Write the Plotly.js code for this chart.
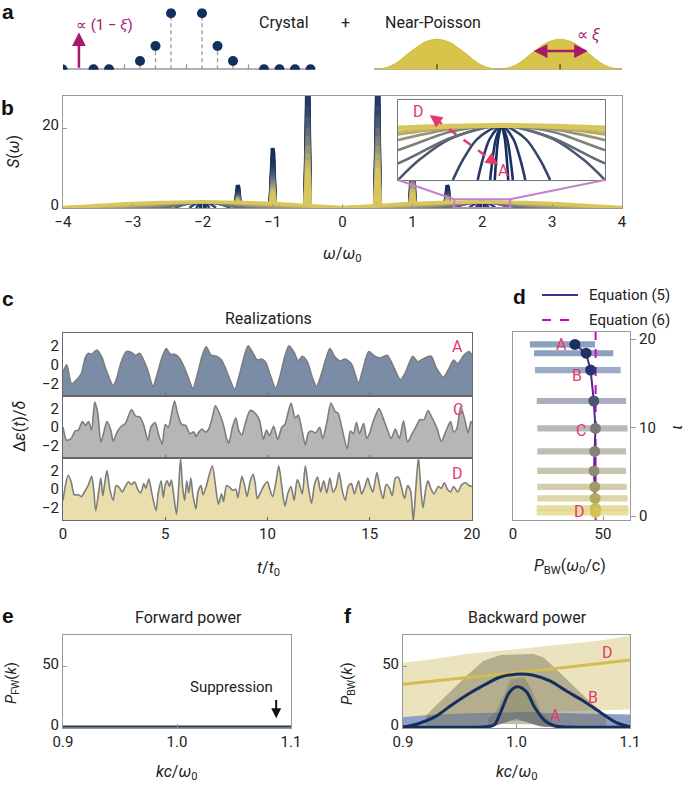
<!DOCTYPE html>
<html><head><meta charset="utf-8">
<script src="https://cdn.plot.ly/plotly-3.0.1.min.js"></script>
<style>html,body{margin:0;padding:0;background:#fff}#chart{width:685px;height:785px}</style>
</head><body><div id="chart"></div>
<script>
// ================= DATA =================
// Panel a : crystal spectrum (stems) and near-Poisson bells
const crystalOmega  = [-4, -3, -2.5, -1.5, -1, -0.5, 0.5, 1, 1.5, 2.5, 3, 3.5, 4];
const crystalHeight = [0, 0, 0, 8.3, 23.3, 56, 56, 23.3, 8.3, 0, 0, 0, 0];
const crystalTicks  = [-2, 0, 2];
const poissonCenters = [8.08, 12.05];
const bellOffset = [-1.97, -1.6, -1.3, -1.0, -0.7, -0.4, 0, 0.4, 0.7, 1.0, 1.3, 1.6, 1.97];
const bellHeight = [0, 2, 6.5, 14, 21, 27, 30, 27, 21, 14, 6.5, 2, 0];

// Panel b : S(omega)
const peakOmega = [-1.5, -1, -0.5, 0.5, 1, 1.5];
const peakS     = [5.7, 15, 38, 38, 15, 5.7];
const levelSpikeFrac = [1.0, 0.86, 0.75, 0.67, 0.6, 0.53, 0.47, 0.41, 0.36, 0.31, 0.26];
const humpCenters = [-2, 2];
const tentFeet = [0.026, 0.044, 0.092, 0.188, 0.40];          // narrow (crystal-like) humps
const tentShapeD = [-1, -0.8, -0.5, 0, 0.5, 0.8, 1];
const tentShapeS = [0, 0.54, 1.125, 1.5, 1.125, 0.54, 0];
const broadOffset = [0, 0.2, 0.4, 0.6, 0.8, 1.0, 1.2, 1.5, 1.8, 2.0];
const broadS = [
  [1.5, 1.15, 0.46, 0.12, 0.02, 0, 0, 0, 0, 0],
  [1.5, 1.32, 0.825, 0.45, 0.2, 0.07, 0.02, 0, 0, 0],
  [1.5, 1.4, 1.1, 0.75, 0.48, 0.27, 0.14, 0.04, 0.01, 0],
  [1.5, 1.44, 1.25, 1.0, 0.78, 0.56, 0.38, 0.18, 0.07, 0.04],
  [1.5, 1.46, 1.32, 1.12, 0.92, 0.72, 0.54, 0.32, 0.17, 0.1],
  [1.5, 1.48, 1.43, 1.35, 1.25, 1.12, 0.95, 0.62, 0.3, 0.15]
];

// Panel c : realizations
const tA = [0,0.18,0.42,0.7,0.9,1.1,1.25,1.4,1.65,1.9,2.1,2.45,2.6,2.85,3.1,3.35,3.55,3.75,4.0,4.15,4.4,4.55,4.85,5.05,5.25,5.45,5.65,5.85,6.1,6.35,6.55,6.8,7.0,7.25,7.5,7.75,7.95,8.15,8.4,8.6,8.85,9.05,9.3,9.5,9.7,9.9,10.15,10.4,10.6,10.85,11.05,11.3,11.5,11.7,11.95,12.2,12.4,12.65,13.05,13.3,13.55,13.8,14.1,14.45,14.65,14.95,15.25,15.5,15.85,16.1,16.5,16.75,17.1,17.35,17.6,18.0,18.25,18.6,18.85,19.1,19.3,19.6,19.85,20];
const vA = [-0.8,0.0,-2.0,-1.5,-0.9,0.8,1.2,1.1,1.55,0.8,-0.5,-2.2,-1.6,0.3,1.4,1.3,1.0,1.2,0.2,-0.6,-2.3,-1.4,0.8,1.7,1.1,1.1,0.8,0.1,-1.2,-2.5,-1.2,0.9,1.9,1.0,0.9,0.5,-0.4,-1.5,-2.6,-1.3,0.8,2.0,1.2,0.5,0.6,0.3,-1.2,-2.5,-1.3,0.9,2.0,1.3,0.4,0.9,0.3,-1.4,-2.3,-0.9,1.7,0.8,0.4,0.6,0.1,-1.9,-0.6,1.4,0.9,0.7,1.0,0.1,-1.6,-0.8,0.9,0.3,0.6,0.9,-0.3,-1.3,-0.5,0.5,0.1,1.0,1.4,1.0];
const tC = [0,0.18,0.4,0.6,0.75,0.95,1.1,1.25,1.4,1.55,1.7,1.85,2.0,2.15,2.35,2.45,2.65,2.85,3.05,3.35,3.55,3.75,3.95,4.15,4.3,4.5,4.7,4.85,5.0,5.15,5.45,5.6,5.8,6.0,6.2,6.4,6.5,6.65,6.8,6.95,7.1,7.3,7.45,7.65,7.85,8.0,8.1,8.3,8.45,8.6,8.75,8.9,9.15,9.4,9.6,9.8,9.95,10.1,10.3,10.5,10.7,10.85,11.15,11.35,11.5,11.7,11.85,12.0,12.15,12.35,12.55,12.7,12.9,13.1,13.3,13.45,13.65,13.9,14.05,14.2,14.35,14.5,14.7,14.85,15.0,15.15,15.45,15.65,15.85,16.05,16.25,16.45,16.65,16.85,17.05,17.25,17.45,17.65,17.85,18.05,18.3,18.5,18.75,18.95,19.1,19.25,19.45,19.65,19.8,19.95,20];
const vC = [0,-1.4,-1.2,-0.4,-0.3,0.6,0.2,0.6,-0.3,2.7,1.5,-1.6,-0.5,0.6,-0.4,-1.5,-0.5,0.1,0.4,1.9,1.2,1.1,0.2,-1.4,0.0,0.5,-1.0,-1.8,0.3,0.0,2.8,1.5,0.3,0.2,-0.7,-0.5,-1.0,-0.5,-0.2,-0.5,-0.3,1.0,2.3,1.5,0.2,-1.2,-1.7,0.1,1.0,-0.4,-0.8,0.3,1.8,1.5,0.8,-1.3,-0.3,-0.9,0.1,-1.3,0.0,0.3,2.6,1.0,1.3,-0.5,-1.9,-0.6,-0.4,-0.6,0.0,-1.2,0.5,2.6,1.7,1.5,-0.2,-2.3,-0.4,-0.7,0.5,-0.7,0.4,-1.2,-0.6,0.5,2.0,1.0,-0.2,-1.2,-0.2,-1.2,0.7,-1.6,-0.8,0.0,0.8,0.8,1.8,1.0,-0.2,-1.5,-0.3,0.6,-0.5,-0.2,2.2,0.8,-0.6,0.6,0.4];
const tD = [0,0.1,0.25,0.4,0.55,0.75,0.9,1.05,1.25,1.4,1.5,1.6,1.75,1.85,1.95,2.05,2.15,2.3,2.45,2.6,2.75,2.9,3.05,3.2,3.35,3.5,3.65,3.8,3.95,4.05,4.2,4.35,4.55,4.65,4.8,4.9,5.0,5.1,5.2,5.3,5.4,5.55,5.65,5.75,5.85,5.95,6.05,6.15,6.25,6.35,6.5,6.6,6.75,6.85,7.0,7.3,7.45,7.6,7.75,7.85,8.0,8.15,8.3,8.45,8.55,8.75,8.9,9.0,9.15,9.3,9.4,9.5,9.65,9.8,10.0,10.1,10.25,10.4,10.55,10.7,10.85,11.0,11.15,11.3,11.45,11.55,11.7,11.85,12.0,12.15,12.3,12.45,12.6,12.75,12.9,13.05,13.2,13.35,13.5,13.65,13.8,13.95,14.1,14.25,14.45,14.6,14.75,14.9,15.0,15.15,15.35,15.5,15.65,15.8,15.95,16.1,16.25,16.4,16.55,16.7,16.85,17.0,17.13,17.25,17.38,17.5,17.6,17.75,17.85,18.0,18.15,18.35,18.5,18.65,18.8,18.95,19.1,19.3,19.5,19.7,19.85,20];
const vD = [-1.2,0.2,1.5,0.8,-0.6,-0.6,-0.8,-0.3,0.5,1.4,0.0,-2.3,-0.2,1.2,-0.7,0.8,2.0,-0.1,-1.2,0.4,0.2,-0.3,0.3,0.8,0.5,0.8,0.0,-0.4,0.6,0.1,1.1,-0.5,-2.3,-0.5,0.9,-0.9,0.5,0.9,0.3,1.0,-0.4,-2.7,0.0,3.3,0.2,-1.2,0.9,-0.4,1.2,-0.6,-2.1,-0.3,0.4,-0.6,0.3,2.5,0.5,-1.6,-0.5,-1.3,0.4,0.2,-0.1,0.0,-0.9,1.4,0.2,-0.8,0.8,1.6,0.6,-1.0,-0.4,0.3,0.8,0.1,-0.8,0.6,2.5,0.3,-1.8,-0.4,0.3,-1.2,1.0,0.6,-0.5,2.5,0.2,-1.5,0.5,1.3,-0.3,0.9,-0.4,1.2,-0.3,0.2,1.8,-0.1,-1.2,0.3,0.6,-0.5,0.9,-0.5,0.2,1.2,0.5,-0.3,1.8,0.2,-1.0,0.5,0.2,-0.7,1.2,1.3,0.2,-1.0,0.4,-0.2,-3.4,0.0,3.4,0.0,-2.0,0.2,0.9,0.0,-0.5,0.3,0.1,0.7,0.0,-0.3,0.3,-0.3,0.5,0.7,0.4,0.3];

// Panel d : backward power vs iota
const iotaLevels = [19.4, 18.4, 16.5, 13.0, 9.9, 7.3, 5.1, 3.3, 2.0, 0.87, 0.4];
const pbwEq5  = [34.4, 40.6, 43.1, 44.9, 45.8, 45.4, 45.0, 45.4, 45.6, 45.8, 45.8];
const pbwLow  = [9.4, 11.7, 12.2, 13.2, 13.5, 13.5, 13.5, 13.5, 13.5, 13.2, 13.2];
const pbwHigh = [45.6, 55.7, 59.8, 62.8, 63.7, 62.8, 62.8, 63.2, 63.7, 64.1, 64.1];
const pbwEq6  = 45.9;

// Panel e : forward power
const kFw  = [0.9, 0.95, 1.0, 1.05, 1.1];
const pfwA = [1.3, 1.3, 1.3, 1.3, 1.3];
const pfwD = [0.3, 0.3, 0.3, 0.3, 0.3];

// Panel f : backward power
const kBandD = [0.9, 0.927, 0.956, 0.986, 1.015, 1.044, 1.074, 1.1];
const bandDLow  = [9.2, 9.5, 10.5, 11.5, 12.5, 13.5, 14.5, 15];
const bandDHigh = [53, 56, 60, 62.8, 65.5, 68.2, 71, 75];
const kBandBlue = [0.9, 0.915, 0.93, 0.96, 0.98, 0.99, 1.0, 1.01, 1.02, 1.04, 1.07, 1.1];
const bandBlueLow  = [0, 0, 0, 0, 1.5, 4.5, 7.5, 4.5, 1.5, 0, 0, 0];
const bandBlueHigh = [9, 10, 11, 12, 12.5, 13, 13, 13, 12.5, 12, 11.5, 11];
const kBandB = [0.92, 0.9414, 0.956, 0.971, 0.986, 1.015, 1.024, 1.038, 1.053, 1.067, 1.079];
const bandBHigh = [10, 28.8, 42.4, 54.6, 59.2, 60, 57.3, 45, 31.5, 19.3, 10];
const kBandA = [0.975, 0.981, 0.990, 0.995, 1.007, 1.013, 1.022, 1.028];
const bandAHigh = [8, 12, 28.8, 40, 41, 31.5, 12, 8];
const kB = [0.9, 0.912, 0.9285, 0.943, 0.958, 0.973, 0.9846, 0.9997, 1.0148, 1.03, 1.044, 1.059, 1.074, 1.088, 1.1];
const pB = [0.8, 3, 9.2, 18.7, 27.8, 35.6, 41, 43.7, 42.9, 38, 30, 22, 12.6, 4.4, 1];
const kA = [0.9, 0.97, 0.978, 0.981, 0.987, 0.993, 0.999, 1.003, 1.009, 1.016, 1.025, 1.034, 1.046, 1.1];
const pA = [0.8, 0.8, 1.6, 3, 15, 27.8, 33.2, 33.2, 29.2, 16.8, 5.9, 1.6, 0.8, 0.8];
const kDl = [0.9, 0.95, 1.0, 1.05, 1.1];
const pD  = [35.6, 40.3, 45, 50, 55.2];

// ================= STYLE / LAYOUT HELPERS =================
const W = 685, H = 785;
const FONT = 'Roboto, "Open Sans", sans-serif';
const px = x => x / W, py = y => 1 - y / H;
const domX = (a, b) => [a / W, b / W];
const domY = (bottom, top) => [1 - bottom / H, 1 - top / H];
const YEL = '#d3bd52', CRIMSON = '#e23a6e', MAG = '#a8196b';
const levelColors = ['#132d5c','#1a3360','#243a66','#354769','#4c586e','#666c74','#7f8078','#989475','#b0a56d','#c6b763','#d8c65c'];

const traces = [];

// ---- Panel a ----
traces.push({x:[-3.98, 3.98, null, 6.05, 14.05], y:[0,0,null,0,0], xaxis:'x', yaxis:'y', mode:'lines',
  line:{color:'#999', width:2}, hoverinfo:'skip'});
(function(){
  const tx=[], ty=[];
  crystalTicks.forEach(t=>{tx.push(t,t,null); ty.push(0,5,null);});
  traces.push({x:tx, y:ty, xaxis:'x', yaxis:'y', mode:'lines', line:{color:'#999', width:1.2}, hoverinfo:'skip'});
  const sx=[], sy=[];
  crystalOmega.forEach((w,i)=>{ if(crystalHeight[i]>0){ sx.push(w,w,null); sy.push(0,crystalHeight[i],null);} });
  traces.push({x:sx, y:sy, xaxis:'x', yaxis:'y', mode:'lines', line:{color:'#999', width:1.3, dash:'4px,3px'}, hoverinfo:'skip'});
  traces.push({x:crystalOmega, y:crystalHeight, xaxis:'x', yaxis:'y', mode:'markers',
    marker:{color:'#12305c', size:10}, cliponaxis:true, hoverinfo:'skip'});
  poissonCenters.forEach(c=>{
    traces.push({x:bellOffset.map(d=>c+d), y:bellHeight, xaxis:'x', yaxis:'y', mode:'lines', fill:'toself',
      fillcolor:'#d8c44a', line:{color:'#cdb83e', width:1, shape:'spline'}, hoverinfo:'skip'});
  });
  const hx=[], hy=[];
  poissonCenters.forEach(c=>{hx.push(c,c,null); hy.push(0,5,null);});
  traces.push({x:hx, y:hy, xaxis:'x', yaxis:'y', mode:'lines', line:{color:'#333', width:1.2}, hoverinfo:'skip'});
})();

// ---- Panel b main + inset ----
function humpCurve(level, centers){
  const x=[], y=[];
  centers.forEach(c=>{
    if(level < tentFeet.length){
      tentShapeD.forEach((d,i)=>{ x.push(c + d*tentFeet[level]); y.push(tentShapeS[i]); });
    } else {
      const s = broadS[level - tentFeet.length];
      for(let i=broadOffset.length-1;i>0;i--){ x.push(c - broadOffset[i]); y.push(s[i]); }
      for(let i=0;i<broadOffset.length;i++){ x.push(c + broadOffset[i]); y.push(s[i]); }
    }
    x.push(null); y.push(null);
  });
  return {x, y};
}
for(let L=0; L<levelColors.length; L++){
  const sx=[], sy=[];
  peakOmega.forEach((p,i)=>{ sx.push(p-0.035, p-0.012, p, p+0.012, p+0.035, null); 
    const h = peakS[i]*levelSpikeFrac[L]; sy.push(0, h*0.9, h, h*0.9, 0, null); });
  traces.push({x:sx, y:sy, xaxis:'x2', yaxis:'y2', mode:'lines', line:{color:levelColors[L], width:4}, hoverinfo:'skip'});
}
for(let L=0; L<levelColors.length; L++){
  const h = humpCurve(L, humpCenters);
  traces.push({x:h.x, y:h.y, xaxis:'x2', yaxis:'y2', mode:'lines',
    line:{color:levelColors[L], width: L===levelColors.length-1 ? 3.5 : 2.5, shape:'spline', smoothing:0.8}, hoverinfo:'skip'});
}
for(let L=0; L<levelColors.length; L++){
  const h = humpCurve(L, [2]);
  traces.push({x:h.x, y:h.y, xaxis:'x3', yaxis:'y3', mode:'lines',
    line:{color:levelColors[L], width: L===levelColors.length-1 ? 5 : 2.6, shape:'spline', smoothing:0.8}, hoverinfo:'skip'});
}

// ---- Panel c ----
const cSeries = [
  {t:tA, v:vA, fill:'#7b8ca7', xa:'x4', ya:'y4'},
  {t:tC, v:vC, fill:'#b6b6b6', xa:'x5', ya:'y5'},
  {t:tD, v:vD, fill:'#e9deac', xa:'x6', ya:'y6'}
];
cSeries.forEach(s=>{
  traces.push({x:[0,20], y:[-4,-4], xaxis:s.xa, yaxis:s.ya, mode:'lines', line:{width:0, color:'rgba(0,0,0,0)'}, hoverinfo:'skip'});
  traces.push({x:s.t, y:s.v, xaxis:s.xa, yaxis:s.ya, mode:'lines', fill:'tonexty', fillcolor:s.fill,
    line:{color:'#7d7d7d', width:1.6, shape:'spline', smoothing:0.7}, hoverinfo:'skip'});
});

// ---- Panel d ----
const barColors = ['rgba(110,135,175,0.8)','rgba(110,135,175,0.8)','rgba(120,142,180,0.75)','rgba(140,148,165,0.75)',
  'rgba(160,160,160,0.75)','rgba(170,168,155,0.75)','rgba(182,178,150,0.75)','rgba(196,188,145,0.75)',
  'rgba(210,200,140,0.75)','rgba(225,212,135,0.8)','rgba(228,215,135,0.8)'];
const dotColors = ['#1a3160','#1c3463','#22386a','#4a5570','#7a7b78','#858375','#8f8b72','#a39a6a','#b4a862','#c9b85a','#d4c255'];
traces.push({type:'bar', orientation:'h', y:iotaLevels, x:pbwHigh.map((h,i)=>h-pbwLow[i]), base:pbwLow,
  width:0.7, marker:{color:barColors, line:{width:0}}, xaxis:'x7', yaxis:'y7', hoverinfo:'skip'});
traces.push({x:[pbwEq6, pbwEq6], y:[-0.45, 20.8], xaxis:'x7', yaxis:'y7', mode:'lines',
  line:{color:'#d000d0', width:2, dash:'dash'}, hoverinfo:'skip'});
traces.push({x:pbwEq5, y:iotaLevels, xaxis:'x7', yaxis:'y7', mode:'lines', line:{color:'#4b2a8a', width:2}, hoverinfo:'skip'});
traces.push({x:pbwEq5, y:iotaLevels, xaxis:'x7', yaxis:'y7', mode:'markers', marker:{color:dotColors, size:11}, hoverinfo:'skip'});

// ---- Panel e ----
traces.push({x:kFw, y:pfwD, xaxis:'x8', yaxis:'y8', mode:'lines', line:{color:YEL, width:3.5}, hoverinfo:'skip'});
traces.push({x:kFw, y:pfwA, xaxis:'x8', yaxis:'y8', mode:'lines', line:{color:'#1f3a6a', width:2}, hoverinfo:'skip'});

// ---- Panel f ----
function band(k, lo, hi, color){
  return {x:k.concat(k.slice().reverse()), y:hi.concat(lo.slice().reverse()), xaxis:'x9', yaxis:'y9',
    mode:'lines', fill:'toself', fillcolor:color, line:{width:0, color:'rgba(0,0,0,0)'}, hoverinfo:'skip'};
}
const notchAt = k => { // lower edge of the central bands
  let j = 0; while(j < kBandBlue.length-2 && kBandBlue[j+1] < k) j++;
  const f = (k - kBandBlue[j])/(kBandBlue[j+1]-kBandBlue[j]);
  return Math.max(0, bandBlueLow[j] + f*(bandBlueLow[j+1]-bandBlueLow[j]));
};
traces.push(band(kBandD, bandDLow, bandDHigh, 'rgba(232,222,178,0.85)'));
traces.push(band(kBandBlue, bandBlueLow, bandBlueHigh, 'rgba(100,120,175,0.72)'));
traces.push(band(kBandB, kBandB.map(notchAt), bandBHigh, 'rgba(120,118,95,0.48)'));
traces.push(band(kBandA, kBandA.map(notchAt), bandAHigh, 'rgba(90,92,72,0.28)'));
traces.push({x:kDl, y:pD, xaxis:'x9', yaxis:'y9', mode:'lines', line:{color:YEL, width:3, shape:'spline'}, hoverinfo:'skip'});
traces.push({x:kB, y:pB, xaxis:'x9', yaxis:'y9', mode:'lines', line:{color:'#142f5e', width:3, shape:'spline', smoothing:0.8}, hoverinfo:'skip'});
traces.push({x:kA, y:pA, xaxis:'x9', yaxis:'y9', mode:'lines', line:{color:'#142f5e', width:3, shape:'spline', smoothing:0.8}, hoverinfo:'skip'});

// ================= LAYOUT =================
const tickFont = {size:15, color:'#222', family:FONT};
function ax(extra){
  return Object.assign({showgrid:false, zeroline:false, showline:true, mirror:true, linecolor:'#999', linewidth:1,
    ticks:'inside', ticklen:4, tickcolor:'#999', tickfont:tickFont, fixedrange:true}, extra);
}
const layout = {
  width:W, height:H, margin:{l:0,r:0,t:0,b:0}, paper_bgcolor:'#fff', plot_bgcolor:'#fff',
  showlegend:false, font:{family:FONT, color:'#222'},
  xaxis: {domain:domX(63,622), range:[-3.984, 14.048], visible:false, anchor:'y', fixedrange:true},
  yaxis: {domain:domY(69.8,8.3), range:[-0.5, 61], visible:false, anchor:'x', fixedrange:true},
  xaxis2: ax({domain:domX(63,622), range:[-4,4], tickvals:[-4,-3,-2,-1,0,1,2,3,4], anchor:'y2'}),
  yaxis2: ax({domain:domY(208,96), range:[0,28], tickvals:[0,20], anchor:'x2', ticklabelshift:-3}),
  xaxis3: ax({domain:domX(398,605), range:[1.6,2.4], showticklabels:false, ticks:'', anchor:'y3', linecolor:'#777'}),
  yaxis3: ax({domain:domY(180,100), range:[0,2.2], showticklabels:false, ticks:'', anchor:'x3', linecolor:'#777'}),
  xaxis4: ax({domain:domX(63,472), range:[0,20], tickvals:[5,10,15], showticklabels:false, anchor:'y4', linecolor:'#666', tickcolor:'#666', ticklen:3}),
  yaxis4: ax({domain:domY(396,333), range:[-3.3,3.35], tickvals:[-2,0,2], ticks:'', anchor:'x4', linecolor:'#666'}),
  xaxis5: ax({domain:domX(63,472), range:[0,20], tickvals:[5,10,15], showticklabels:false, anchor:'y5', linecolor:'#666', tickcolor:'#666', ticklen:3}),
  yaxis5: ax({domain:domY(458,396), range:[-3.3,3.35], tickvals:[-2,0,2], ticks:'', anchor:'x5', linecolor:'#666'}),
  xaxis6: ax({domain:domX(63,472), range:[0,20], tickvals:[0,5,10,15,20], anchor:'y6', linecolor:'#666', tickcolor:'#666', ticklen:3}),
  yaxis6: ax({domain:domY(520,458), range:[-3.3,3.35], tickvals:[-2,0,2], ticks:'', anchor:'x6', linecolor:'#666'}),
  xaxis7: ax({domain:domX(513,630), range:[0,65], tickvals:[0,50], anchor:'y7'}),
  yaxis7: ax({domain:domY(520,332), range:[-0.45,20.8], tickvals:[0,10,20], side:'right', ticks:'outside', ticklen:5, anchor:'x7'}),
  xaxis8: ax({domain:domX(63,291), range:[0.9,1.1], tickvals:[0.9,1.0,1.1], ticktext:['0.9','1.0','1.1'], anchor:'y8'}),
  yaxis8: ax({domain:domY(728,635), range:[0,75.5], tickvals:[0,50], anchor:'x8', ticklabelshift:-3}),
  xaxis9: ax({domain:domX(403,630), range:[0.9,1.1], tickvals:[0.9,1.0,1.1], ticktext:['0.9','1.0','1.1'], anchor:'y9'}),
  yaxis9: ax({domain:domY(728,635), range:[0,75.5], tickvals:[0,50], anchor:'x9', ticklabelshift:-3}),
  shapes: [], annotations: []
};
const S = layout.shapes, A = layout.annotations;
function txt(x, y, text, o){
  return Object.assign({xref:'paper', yref:'paper', x:px(x), y:py(y), text:text, showarrow:false,
    xanchor:'center', yanchor:'middle', font:{size:15, color:'#222', family:FONT}}, o||{});
}
function lbl(xr, yr, x, y, text, size){
  return {xref:xr, yref:yr, x:x, y:y, text:text, showarrow:false, xanchor:'center', yanchor:'middle',
    font:{size:size||16, color:CRIMSON, family:FONT}};
}
// panel letters
[['a',8,12],['b',8,108],['c',8,298],['d',519,296],['e',8,615],['f',348,615]].forEach(p=>{
  A.push(txt(p[1], p[2], '<b>'+p[0]+'</b>', {font:{size:21, color:'#111', family:'"Liberation Sans", Arial, sans-serif'}}));
});
// panel a texts & arrows
A.push(txt(104, 25, '∝ (1 − <i>ξ</i>)', {font:{size:15, color:MAG, family:FONT}}));
A.push(txt(284, 23, 'Crystal', {font:{size:16, color:'#222', family:FONT}}));
A.push(txt(345, 23, '+', {font:{size:16, color:'#222', family:FONT}}));
A.push(txt(433, 23, 'Near-Poisson', {font:{size:16, color:'#222', family:FONT}}));
A.push(txt(588, 35, '∝ <i>ξ</i>', {font:{size:16, color:MAG, family:FONT}}));
A.push({xref:'x', yref:'y', axref:'x', ayref:'y', x:-3.47, y:37, ax:-3.47, ay:0, text:'', showarrow:true,
  arrowhead:2, arrowsize:1.1, arrowwidth:2.5, arrowcolor:MAG});
A.push({xref:'x', yref:'y', axref:'x', ayref:'y', x:12.95, y:18.3, ax:11.15, ay:18.3, text:'', showarrow:true,
  arrowhead:2, arrowside:'end+start', arrowsize:1.1, arrowwidth:2.5, arrowcolor:MAG});
// panel b titles
A.push(txt(14, 152, '<i>S</i>(<i>ω</i>)', {textangle:-90, font:{size:16, color:'#222', family:FONT}}));
A.push(txt(342, 255, '<i>ω</i>/<i>ω</i><sub>0</sub>', {font:{size:16, color:'#222', family:FONT}}));
// inset decorations
S.push({type:'rect', xref:'x2', yref:'y2', x0:1.6, x1:2.4, y0:0, y1:2.2, line:{color:'#c57fcf', width:2}});
S.push({type:'line', xref:'paper', yref:'paper', x0:px(398), y0:py(180), x1:px(342+1.6*70), y1:py(208-2.2*4), line:{color:'#c57fcf', width:2}});
S.push({type:'line', xref:'paper', yref:'paper', x0:px(605), y0:py(180), x1:px(342+2.4*70), y1:py(208-2.2*4), line:{color:'#c57fcf', width:2}});
(function(){
  const D=[1.7226,1.7875], Ap=[1.987,0.4125];
  const P = s => [D[0]+s*(Ap[0]-D[0]), D[1]+s*(Ap[1]-D[1])];
  const p1=P(0.07), p2=P(0.93);
  S.push({type:'line', xref:'x3', yref:'y3', x0:p1[0], y0:p1[1], x1:p2[0], y1:p2[1], line:{color:CRIMSON, width:2.5, dash:'dash'}});
  const t1=P(0.1), t2=P(0.9);
  A.push({xref:'x3', yref:'y3', axref:'x3', ayref:'y3', x:D[0], y:D[1], ax:t1[0], ay:t1[1], text:'', showarrow:true, arrowhead:2, arrowsize:1, arrowwidth:2.5, arrowcolor:CRIMSON});
  A.push({xref:'x3', yref:'y3', axref:'x3', ayref:'y3', x:Ap[0], y:Ap[1], ax:t2[0], ay:t2[1], text:'', showarrow:true, arrowhead:2, arrowsize:1, arrowwidth:2.5, arrowcolor:CRIMSON});
  A.push(lbl('x3','y3', 1.681, 1.88, 'D'));
  A.push(lbl('x3','y3', 2.008, 0.25, 'A'));
})();
// panel c
A.push(txt(268, 318, 'Realizations', {font:{size:16, color:'#222', family:FONT}}));
A.push(txt(19, 427, 'Δ<i>ε</i>(<i>t</i>)/<i>δ</i>', {textangle:-90, font:{size:16, color:'#222', family:FONT}}));
A.push(txt(268, 568, '<i>t</i>/<i>t</i><sub>0</sub>', {font:{size:16, color:'#222', family:FONT}}));
A.push(lbl('x4','y4', 19.3, 1.9, 'A'));
A.push(lbl('x5','y5', 19.3, 1.9, 'C'));
A.push(lbl('x6','y6', 19.3, 1.7, 'D'));
// panel d
S.push({type:'line', xref:'paper', yref:'paper', x0:px(542), x1:px(578), y0:py(295), y1:py(295), line:{color:'#4b2a8a', width:2}});
S.push({type:'line', xref:'paper', yref:'paper', x0:px(542), x1:px(578), y0:py(320), y1:py(320), line:{color:'#d000d0', width:2, dash:'dash'}});
A.push(txt(587, 295, 'Equation (5)', {xanchor:'left', font:{size:15, color:'#222', family:FONT}}));
A.push(txt(587, 320, 'Equation (6)', {xanchor:'left', font:{size:15, color:'#222', family:FONT}}));
A.push(txt(570, 566, '<i>P</i><sub>BW</sub>(<i>ω</i><sub>0</sub>/c)', {font:{size:16, color:'#222', family:FONT}}));
A.push(txt(676, 428, '<i>ι</i>', {textangle:-90, font:{size:17, color:'#222', family:FONT}}));
A.push(lbl('x7','y7', 26.7, 19.4, 'A'));
A.push(lbl('x7','y7', 35.6, 15.9, 'B'));
A.push(lbl('x7','y7', 37.8, 9.7, 'C'));
A.push(lbl('x7','y7', 37.2, 0.5, 'D'));
// panel e
A.push(txt(188, 617, 'Forward power', {font:{size:16, color:'#222', family:FONT}}));
A.push(txt(12, 683, '<i>P</i><sub>FW</sub>(<i>k</i>)', {textangle:-90, font:{size:15, color:'#222', family:FONT}}));
A.push(txt(177, 772, '<i>kc</i>/<i>ω</i><sub>0</sub>', {font:{size:16, color:'#222', family:FONT}}));
A.push({xref:'x8', yref:'y8', x:1.048, y:33.4, text:'Suppression', showarrow:false, xanchor:'center', yanchor:'middle', font:{size:15, color:'#222', family:FONT}});
A.push({xref:'x8', yref:'y8', axref:'x8', ayref:'y8', x:1.087, y:8, ax:1.087, ay:24, text:'', showarrow:true, arrowhead:2, arrowsize:1, arrowwidth:2, arrowcolor:'#111'});
// panel f
A.push(txt(527, 617, 'Backward power', {font:{size:16, color:'#222', family:FONT}}));
A.push(txt(348, 683, '<i>P</i><sub>BW</sub>(<i>k</i>)', {textangle:-90, font:{size:15, color:'#222', family:FONT}}));
A.push(txt(517, 772, '<i>kc</i>/<i>ω</i><sub>0</sub>', {font:{size:16, color:'#222', family:FONT}}));
A.push(lbl('x9','y9', 1.034, 9.8, 'A'));
A.push(lbl('x9','y9', 1.0674, 24.4, 'B'));
A.push(lbl('x9','y9', 1.0806, 61, 'D'));

Plotly.newPlot('chart', traces, layout, {staticPlot:true, displayModeBar:false});
</script>
</body></html>
